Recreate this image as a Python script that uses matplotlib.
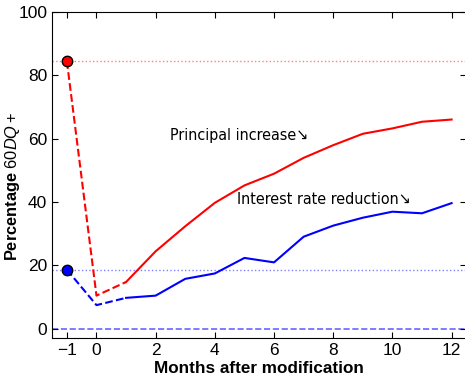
import matplotlib
matplotlib.use("Agg")
import matplotlib.pyplot as plt
import numpy as np

plt.rcParams['font.family'] = ['Liberation Sans', 'DejaVu Sans']
plt.rcParams['mathtext.fontset'] = 'custom'
plt.rcParams['mathtext.rm'] = 'Liberation Sans'
plt.rcParams['mathtext.it'] = 'Liberation Sans:italic'

# months relative to modification
months = [-1, 0, 1, 2, 3, 4, 5, 6, 7, 8, 9, 10, 11, 12]
principal = [84.4, 10.4, 14.7, 24.4, 32.3, 39.7, 45.2, 48.9, 53.9, 57.9, 61.5, 63.2, 65.3, 66.0]
interest = [18.6, 7.4, 9.7, 10.4, 15.7, 17.4, 22.3, 20.9, 29.0, 32.5, 35.0, 36.9, 36.4, 39.6]

fig = plt.figure(figsize=(4.65, 3.82), dpi=100)
ax = fig.add_axes([0.112, 0.115, 0.891, 0.854])

# reference levels
ax.axhline(principal[0], color='red', ls=':', lw=1, alpha=0.5)
ax.axhline(interest[0], color='blue', ls=':', lw=1, alpha=0.5)
ax.axhline(0, color='blue', ls='--', lw=1.2, alpha=0.6)

# dashed part (-1 -> 0 -> 1), solid from month 1
ax.plot(months[:3], principal[:3], color='red', ls='--', lw=1.5)
ax.plot(months[2:], principal[2:], color='red', lw=1.5)
ax.plot(months[:3], interest[:3], color='blue', ls='--', lw=1.5)
ax.plot(months[2:], interest[2:], color='blue', lw=1.5)

ax.plot(months[0], principal[0], 'o', color='red', mec='black', ms=7.5, zorder=5)
ax.plot(months[0], interest[0], 'o', color='blue', mec='black', ms=7.5, zorder=5)

ax.text(2.5, 61, 'Principal increase\u2198', fontsize=11.5, va='center',
        family=['DejaVu Sans'], fontstretch='condensed')
ax.text(4.75, 40.8, 'Interest rate reduction\u2198', fontsize=11.5, va='center',
        family=['DejaVu Sans'], fontstretch='condensed')

ax.set_xlim(-1.5, 12.5)
ax.set_ylim(-3, 100)
ax.set_xticks([-1, 0, 2, 4, 6, 8, 10, 12])
ax.set_yticks([0, 20, 40, 60, 80, 100])
ax.tick_params(direction='in', top=True, right=True, labelsize=12.5, length=4)
ax.set_xticklabels(['\u22121', '0', '2', '4', '6', '8', '10', '12'])

ax.set_xlabel('Months after modification', fontsize=12.3, fontweight='bold', labelpad=2)
ax.set_ylabel(r'Percentage $60DQ+$', fontsize=11.8, fontweight='bold')
ax.yaxis.set_label_coords(-0.072, 0.466)

fig.savefig('out.png', dpi=100)
